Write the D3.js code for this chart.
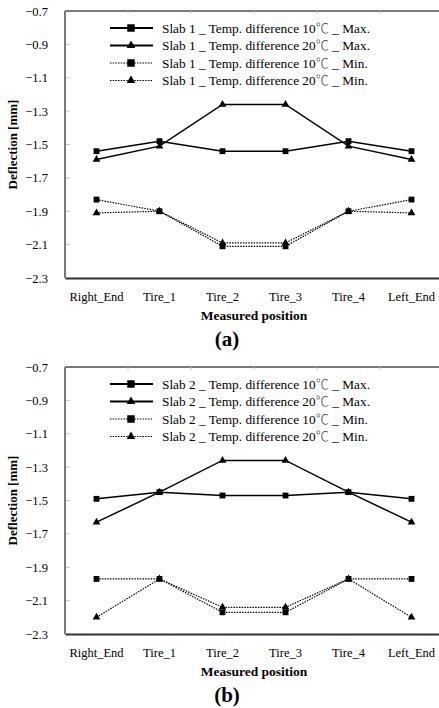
<!DOCTYPE html>
<html>
<head>
<meta charset="utf-8">
<script src="https://cdn.jsdelivr.net/npm/d3@7"></script>
<style>
  body { margin: 0; background: #fff; }
  svg { display: block; }
  text { font-family: "Liberation Serif", "Times New Roman", serif; fill: #000; }
</style>
</head>
<body>
<svg id="chart" width="439" height="708"></svg>
<script>
const width = 439;
const height = 708;

// categories and ticks
const positions = ["Right_End", "Tire_1", "Tire_2", "Tire_3", "Tire_4", "Left_End"];
const yTicks = [-0.7, -0.9, -1.1, -1.3, -1.5, -1.7, -1.9, -2.1, -2.3];

// panel (a) - slab 1
const slab1Max10 = [-1.54, -1.48, -1.54, -1.54, -1.48, -1.54];
const slab1Max20 = [-1.59, -1.51, -1.26, -1.26, -1.51, -1.59];
const slab1Min10 = [-1.83, -1.90, -2.11, -2.11, -1.90, -1.83];
const slab1Min20 = [-1.91, -1.90, -2.09, -2.09, -1.90, -1.91];

// panel (b) - slab 2
const slab2Max10 = [-1.49, -1.45, -1.47, -1.47, -1.45, -1.49];
const slab2Max20 = [-1.63, -1.45, -1.26, -1.26, -1.45, -1.63];
const slab2Min10 = [-1.97, -1.97, -2.17, -2.17, -1.97, -1.97];
const slab2Min20 = [-2.20, -1.97, -2.14, -2.14, -1.97, -2.20];

const svg = d3.select('#chart');

const plotLeft = 65;
const plotRight = 443;   // runs past the window edge, like the original

const x = d3.scaleBand()
    .domain(positions)
    .range([plotLeft, plotRight])
    .padding(0);

const triangle = d3.symbol().type(d3.symbolTriangle);
const square = d3.symbol().type(d3.symbolSquare);

function drawPanel(top, bottom, slab, series, panelLabel) {
    const g = svg.append('g');

    const y = d3.scaleLinear()
        .domain([-2.3, -0.7])
        .range([bottom, top]);

    // frame: top + left in grey, bottom axis dark
    g.append('line')
        .attr('x1', plotLeft).attr('x2', plotRight)
        .attr('y1', top).attr('y2', top)
        .attr('stroke', '#7a7a7a').attr('stroke-width', 2);
    g.append('line')
        .attr('x1', plotLeft).attr('x2', plotLeft)
        .attr('y1', top).attr('y2', bottom)
        .attr('stroke', '#7a7a7a').attr('stroke-width', 2);

    // small category ticks hanging from the top border
    g.selectAll('.cat-tick')
        .data(positions.slice(1))
        .enter().append('line')
        .attr('x1', d => x(d)).attr('x2', d => x(d))
        .attr('y1', top).attr('y2', top + 3)
        .attr('stroke', '#c8c8c8').attr('stroke-width', 1);

    // y axis
    const yAxis = d3.axisLeft(y)
        .tickValues(yTicks)
        .tickFormat(d3.format('.1f'))
        .tickSize(0)
        .tickPadding(17);

    const ya = g.append('g')
        .attr('transform', `translate(${plotLeft},0)`)
        .call(yAxis);
    ya.select('.domain').remove();
    ya.selectAll('text')
        .style('font-size', '12.5px')
        .style('font-family', '"Liberation Serif", serif');

    g.selectAll('.y-tick')
        .data(yTicks.slice(1, -1))
        .enter().append('line')
        .attr('x1', plotLeft + 1).attr('x2', plotLeft + 5)
        .attr('y1', d => y(d)).attr('y2', d => y(d))
        .attr('stroke', '#c8c8c8').attr('stroke-width', 1);

    // x axis
    const xAxis = d3.axisBottom(x)
        .tickSize(0)
        .tickPadding(14);

    const xa = g.append('g')
        .attr('transform', `translate(0,${bottom})`)
        .call(xAxis);
    xa.select('.domain')
        .attr('stroke', '#333')
        .attr('stroke-width', 2);
    xa.selectAll('text')
        .style('font-size', '12.5px')
        .style('font-family', '"Liberation Serif", serif');

    // lines and markers
    const line = d3.line()
        .x((d, i) => x(positions[i]) + x.bandwidth() / 2)
        .y(d => y(d));

    series.forEach(s => {
        g.append('path')
            .datum(s.values)
            .attr('d', line)
            .attr('fill', 'none')
            .attr('stroke', '#000')
            .attr('stroke-width', s.dotted ? 1.2 : 1.5)
            .attr('stroke-dasharray', s.dotted ? '1.5,1.2' : null);

        g.selectAll(null)
            .data(s.values)
            .enter().append('path')
            .attr('d', s.shape === 'square' ? square.size(34)() : triangle.size(26)())
            .attr('transform', (d, i) => `translate(${x(positions[i]) + x.bandwidth() / 2},${y(d)})`)
            .attr('fill', '#000');
    });

    // legend
    const legend = g.append('g');
    series.forEach((s, i) => {
        const ly = top + 17 + i * 17.5;
        legend.append('line')
            .attr('x1', 110).attr('x2', 153)
            .attr('y1', ly).attr('y2', ly)
            .attr('stroke', '#000')
            .attr('stroke-width', s.dotted ? 1.2 : 2)
            .attr('stroke-dasharray', s.dotted ? '1.5,1.2' : null);
        legend.append('path')
            .attr('d', s.shape === 'square' ? square.size(56)() : triangle.size(32)())
            .attr('transform', `translate(131,${ly})`)
            .attr('fill', '#000');
        const t = legend.append('text')
            .attr('x', 162)
            .attr('y', ly)
            .attr('dy', '0.35em')
            .style('font-size', '13.3px');
        t.append('tspan').text(`Slab ${slab} _ Temp. difference ${s.temp}`);
        t.append('tspan')
            .style('font-family', '"Noto Sans CJK KR", sans-serif')
            .style('font-weight', '300')
            .style('fill', '#444')
            .text('\u2103');
        t.append('tspan').text(` _ ${s.kind}`);
    });

    // axis titles
    g.append('text')
        .attr('transform', `translate(17,${(top + bottom) / 2}) rotate(-90)`)
        .attr('text-anchor', 'middle')
        .style('font-size', '13px')
        .style('font-weight', 'bold')
        .text('Deflection [mm]');

    g.append('text')
        .attr('x', (plotLeft + plotRight) / 2)
        .attr('y', bottom + 42)
        .attr('text-anchor', 'middle')
        .style('font-size', '13.5px')
        .style('font-weight', 'bold')
        .text('Measured position');

    g.append('text')
        .attr('x', 227)
        .attr('y', bottom + 68)
        .attr('text-anchor', 'middle')
        .style('font-size', '21px')
        .style('font-weight', 'bold')
        .text(panelLabel);
}

drawPanel(11, 278, 1, [
    { temp: '10', kind: 'Max.', values: slab1Max10, shape: 'square', dotted: false },
    { temp: '20', kind: 'Max.', values: slab1Max20, shape: 'triangle', dotted: false },
    { temp: '10', kind: 'Min.', values: slab1Min10, shape: 'square', dotted: true },
    { temp: '20', kind: 'Min.', values: slab1Min20, shape: 'triangle', dotted: true }
], '(a)');

drawPanel(367, 634, 2, [
    { temp: '10', kind: 'Max.', values: slab2Max10, shape: 'square', dotted: false },
    { temp: '20', kind: 'Max.', values: slab2Max20, shape: 'triangle', dotted: false },
    { temp: '10', kind: 'Min.', values: slab2Min10, shape: 'square', dotted: true },
    { temp: '20', kind: 'Min.', values: slab2Min20, shape: 'triangle', dotted: true }
], '(b)');
</script>
</body>
</html>
